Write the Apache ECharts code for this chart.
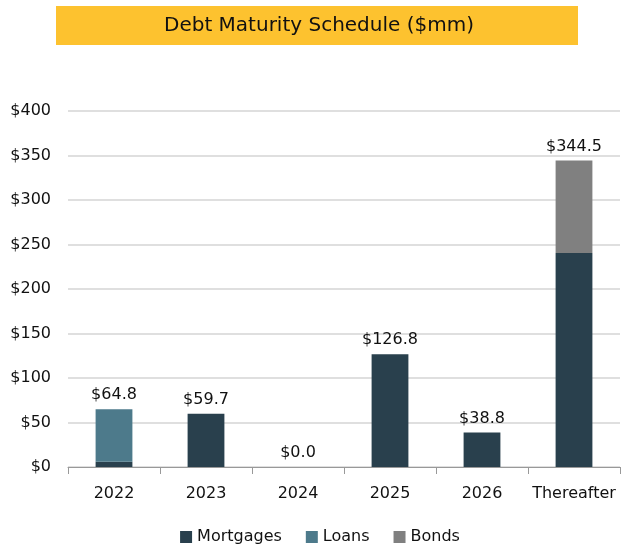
<!DOCTYPE html>
<html>
<head>
<meta charset="utf-8">
<script src="https://cdn.jsdelivr.net/npm/echarts@6/dist/echarts.min.js"></script>
<style>
  html, body { margin: 0; padding: 0; background: #fff; }
  #main { width: 640px; height: 557px; }
</style>
</head>
<body>
<div id="main"></div>
<script>
// chart data
var categories = ['2022', '2023', '2024', '2025', '2026', 'Thereafter'];
var mortgages = [6.0, 59.7, 0, 126.8, 38.8, 240.5];
var loans = [58.8, 0, 0, 0, 0, 0];
var bonds = [0, 0, 0, 0, 0, 104.0];
var totals = [64.8, 59.7, 0.0, 126.8, 38.8, 344.5];
var yTicks = [0, 50, 100, 150, 200, 250, 300, 350, 400];

var font = '"DejaVu Sans", sans-serif';

var myChart = echarts.init(document.getElementById('main'));
myChart.setOption({
    animation: false,
    textStyle: { fontFamily: font },
    graphic: [{
        type: 'rect',
        shape: { x: 56, y: 6, width: 522, height: 39 },
        style: { fill: '#fdc22f' }
    }, {
        type: 'text',
        x: 319, y: 26,
        style: {
            text: 'Debt Maturity Schedule ($mm)',
            fontFamily: font, fontSize: 20, fill: '#111',
            align: 'center', verticalAlign: 'middle'
        }
    }],
    legend: {
        bottom: 7,
        left: 'center',
        itemWidth: 12, itemHeight: 12,
        itemGap: 24,
        icon: 'rect',
        textStyle: { fontFamily: font, fontSize: 16, color: '#111' },
        data: ['Mortgages', 'Loans', 'Bonds']
    },
    grid: { left: 68, right: 20, top: 111, bottom: 90 },
    xAxis: {
        type: 'category',
        data: categories,
        axisLine: { lineStyle: { color: '#999' } },
        axisTick: { show: true, interval: 0, length: 7, lineStyle: { color: '#999' } },
        axisLabel: { interval: 0, fontSize: 16, color: '#111', margin: 19, fontFamily: font }
    },
    yAxis: {
        type: 'value',
        min: yTicks[0], max: yTicks[yTicks.length - 1], interval: 50,
        axisLine: { show: false },
        axisTick: { show: false },
        splitLine: { lineStyle: { color: '#d4d4d4', width: 1.5 } },
        axisLabel: {
            fontSize: 16, color: '#111', margin: 17, fontFamily: font,
            formatter: function (v) { return '$' + v; }
        }
    },
    series: [{
        name: 'Mortgages', type: 'bar', stack: 'debt', barWidth: '40%',
        itemStyle: { color: '#29404d' },
        data: mortgages
    }, {
        name: 'Loans', type: 'bar', stack: 'debt',
        itemStyle: { color: '#4d7a8b' },
        data: loans
    }, {
        name: 'Bonds', type: 'bar', stack: 'debt',
        itemStyle: { color: '#808080' },
        data: bonds
    }, {
        name: 'Total', type: 'bar', stack: 'debt',
        itemStyle: { color: 'transparent' },
        data: totals.map(function () { return 0; }),
        label: {
            show: true, position: 'top', distance: 6,
            fontSize: 16, color: '#111', fontFamily: font,
            formatter: function (p) { return '$' + totals[p.dataIndex].toFixed(1); }
        }
    }]
});
</script>
</body>
</html>
